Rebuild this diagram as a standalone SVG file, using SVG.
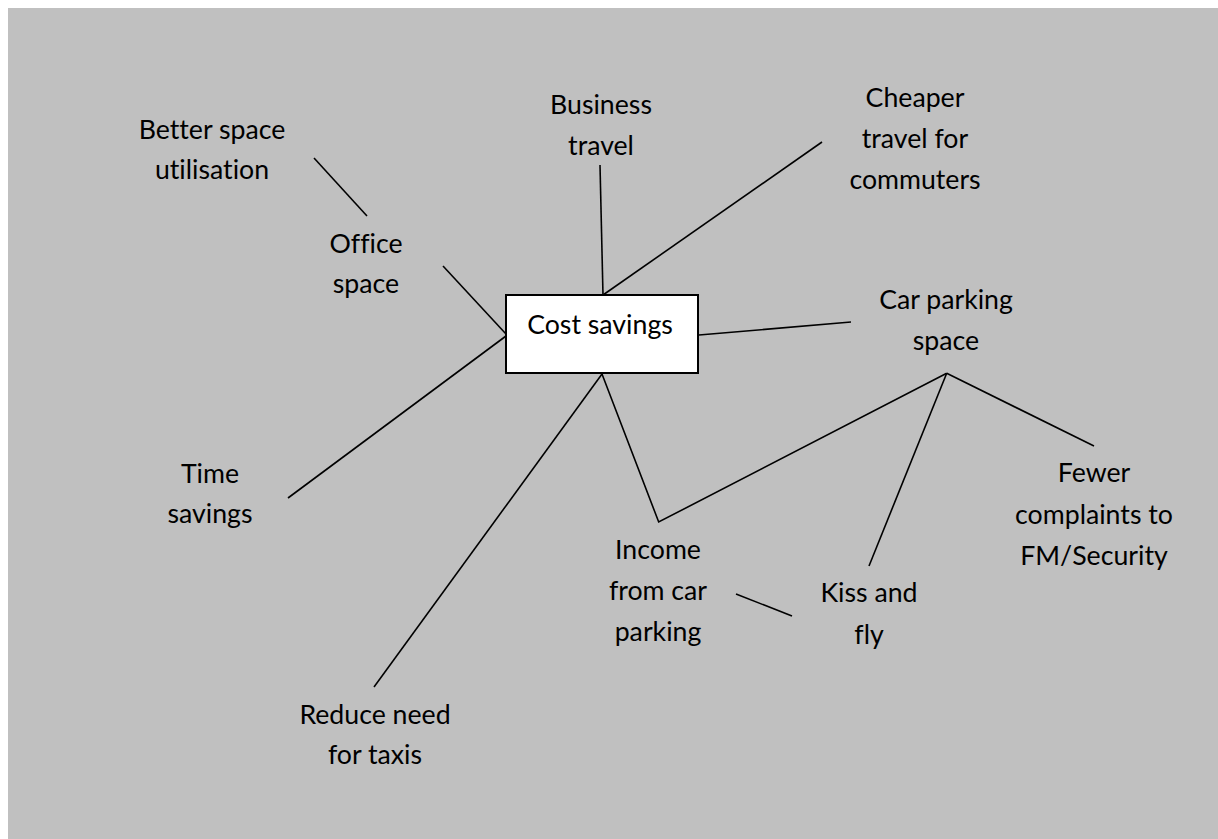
<svg xmlns="http://www.w3.org/2000/svg" width="1218" height="839" viewBox="0 0 1218 839">
<style>
text{font-family:Lato,"Open Sans","Liberation Sans",sans-serif;font-size:26.7px;fill:#000;text-anchor:middle;font-variant-ligatures:none}
.c line,.c polyline{stroke:#000;stroke-width:1.6;fill:none}
</style>
<rect x="0" y="0" width="1218" height="839" fill="#fff"/>
<rect x="8" y="8" width="1210" height="831" fill="#c0c0c0"/>
<g class="c" id="connectors">
<line x1="314" y1="158" x2="367" y2="216"/>
<line x1="443" y1="266" x2="506" y2="334"/>
<line x1="506" y1="336" x2="288" y2="498"/>
<line x1="600" y1="165" x2="603" y2="295"/>
<line x1="822" y1="142" x2="603" y2="295"/>
<line x1="699" y1="335" x2="851" y2="322"/>
<line x1="602" y1="374" x2="374" y2="687"/>
<polyline points="602,374 658.7,522 946.7,373.3"/>
<line x1="946.7" y1="373.3" x2="869" y2="566"/>
<line x1="946.7" y1="373.3" x2="1094" y2="446"/>
<line x1="736" y1="594" x2="792" y2="616"/>
</g>
<g id="cost-savings">
<rect x="506" y="295" width="192" height="78" fill="#fff" stroke="#000" stroke-width="2"/>
<text x="600" y="334">Cost savings</text>
</g>
<g id="better-space"><text x="212" y="139">Better space</text><text x="212" y="179">utilisation</text></g>
<g id="office-space"><text x="366" y="253">Office</text><text x="366" y="293">space</text></g>
<g id="business-travel"><text x="601" y="114">Business</text><text x="601" y="155">travel</text></g>
<g id="cheaper-travel"><text x="915" y="107">Cheaper</text><text x="915" y="148">travel for</text><text x="915" y="189">commuters</text></g>
<g id="car-parking"><text x="946" y="309">Car parking</text><text x="946" y="350">space</text></g>
<g id="time-savings"><text x="210" y="483">Time</text><text x="210" y="523">savings</text></g>
<g id="fewer-complaints"><text x="1094" y="482">Fewer</text><text x="1094" y="524">complaints to</text><text x="1094" y="565">FM/Security</text></g>
<g id="income"><text x="658" y="559">Income</text><text x="658" y="600">from car</text><text x="658" y="641">parking</text></g>
<g id="kiss-fly"><text x="869" y="602">Kiss and</text><text x="869" y="644">fly</text></g>
<g id="taxis"><text x="375" y="724">Reduce need</text><text x="375" y="764">for taxis</text></g>
</svg>
